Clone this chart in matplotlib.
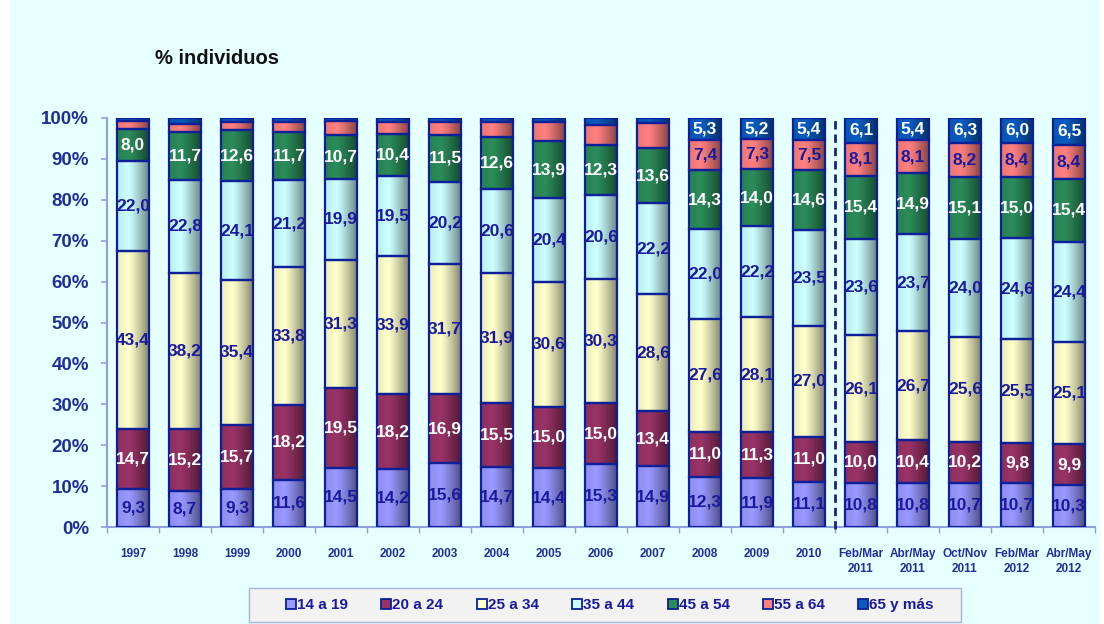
import numpy as np
import matplotlib.pyplot as plt
from matplotlib.patches import Rectangle
from matplotlib.lines import Line2D

periods = ['1997', '1998', '1999', '2000', '2001', '2002', '2003', '2004', '2005', '2006',
           '2007', '2008', '2009', '2010', 'Feb/Mar\n2011', 'Abr/May\n2011', 'Oct/Nov\n2011',
           'Feb/Mar\n2012', 'Abr/May\n2012']

age_14_19 = [9.3, 8.7, 9.3, 11.6, 14.5, 14.2, 15.6, 14.7, 14.4, 15.3, 14.9, 12.3, 11.9, 11.1, 10.8, 10.8, 10.7, 10.7, 10.3]
age_20_24 = [14.7, 15.2, 15.7, 18.2, 19.5, 18.2, 16.9, 15.5, 15.0, 15.0, 13.4, 11.0, 11.3, 11.0, 10.0, 10.4, 10.2, 9.8, 9.9]
age_25_34 = [43.4, 38.2, 35.4, 33.8, 31.3, 33.9, 31.7, 31.9, 30.6, 30.3, 28.6, 27.6, 28.1, 27.0, 26.1, 26.7, 25.6, 25.5, 25.1]
age_35_44 = [22.0, 22.8, 24.1, 21.2, 19.9, 19.5, 20.2, 20.6, 20.4, 20.6, 22.2, 22.0, 22.2, 23.5, 23.6, 23.7, 24.0, 24.6, 24.4]
age_45_54 = [8.0, 11.7, 12.6, 11.7, 10.7, 10.4, 11.5, 12.6, 13.9, 12.3, 13.6, 14.3, 14.0, 14.6, 15.4, 14.9, 15.1, 15.0, 15.4]
age_55_64 = [1.8, 2.0, 2.0, 2.4, 3.3, 2.7, 3.0, 3.7, 4.6, 4.9, 6.1, 7.4, 7.3, 7.5, 8.1, 8.1, 8.2, 8.4, 8.4]
age_65 = [0.8, 1.4, 0.9, 1.1, 0.8, 1.1, 1.1, 1.0, 1.1, 1.6, 1.2, 5.3, 5.2, 5.4, 6.1, 5.4, 6.3, 6.0, 6.5]

series_names = ['14 a 19', '20 a 24', '25 a 34', '35 a 44', '45 a 54', '55 a 64', '65 y más']
series = [age_14_19, age_20_24, age_25_34, age_35_44, age_45_54, age_55_64, age_65]
colors = ['#9999FF', '#993366', '#FFFFCC', '#CCFFFF', '#2B8C5A', '#FF8080', '#0A5CC0']
text_colors = ['#1A1A9C', 'white', '#1A1A9C', '#1A1A9C', 'white', '#1A1A9C', 'white']
# the two oldest groups only carry labels from 2008 on
first_labeled = [0, 0, 0, 0, 0, 11, 11]

navy = '#0D1F99'
axis_blue = '#8FA0E0'
tick_blue = '#1F2F9A'

plt.rcParams['font.family'] = ['Liberation Sans', 'DejaVu Sans']

fig = plt.figure(figsize=(11.04, 6.24), dpi=100)
fig.patch.set_facecolor('white')
fig.patches.append(Rectangle((10 / 1104, 0), 1090 / 1104, 1, transform=fig.transFigure,
                             facecolor='#E6FFFF', edgecolor='none', zorder=-5))

ax = fig.add_axes([107 / 1104, (624 - 527) / 624, 988 / 1104, 409 / 624])
ax.set_facecolor('none')

x = np.arange(len(periods))
width = 0.62

# horizontal shading laid over each bar
ramp = np.linspace(0, 1, 64)
shade = np.where(ramp < 0.35, 0.08 * (1 - ramp / 0.35), 0.5 * ((ramp - 0.35) / 0.65) ** 1.2)
grad = np.zeros((1, 64, 4))
grad[0, :, 3] = shade

bottom = np.zeros(len(periods))
for k, vals in enumerate(series):
    vals = np.array(vals)
    ax.bar(x, vals, width, bottom=bottom, color=colors[k], edgecolor='none', zorder=2)
    ax.bar(x, vals, width, bottom=bottom, fill=False, edgecolor=navy, linewidth=1.6, zorder=4)
    for i in range(len(periods)):
        if i >= first_labeled[k]:
            label = f'{vals[i]:.1f}'.replace('.', ',')
            ax.text(x[i], bottom[i] + vals[i] / 2, label, ha='center', va='center',
                    fontsize=12.5, fontweight='bold', color=text_colors[k], zorder=5)
    bottom += vals

for i in range(len(periods)):
    ax.imshow(grad, extent=(x[i] - width / 2, x[i] + width / 2, 0, bottom[i]),
              aspect='auto', interpolation='bilinear', zorder=3)

# split between yearly and survey-wave figures
ax.plot([13.5, 13.5], [-0.6, 100.6], color='#1A237E', linewidth=2, dashes=(3, 1.8),
        clip_on=False, zorder=5)

ax.set_xlim(-0.5, len(periods) - 0.5)
ax.set_ylim(0, 100)
ax.set_yticks(range(0, 101, 10))
ax.set_yticklabels([f'{v}%' for v in range(0, 101, 10)])
ax.set_xticks(x)
ax.set_xticklabels(periods)
ax.set_xticks(np.arange(-0.5, len(periods), 1), minor=True)

for side in ['top', 'right']:
    ax.spines[side].set_visible(False)
for side in ['left', 'bottom']:
    ax.spines[side].set_color(axis_blue)
    ax.spines[side].set_linewidth(1.5)

ax.tick_params(axis='y', length=4, width=1.2, color=axis_blue, pad=9,
               labelsize=13.5, labelcolor=tick_blue)
for lbl in ax.get_yticklabels():
    lbl.set_fontweight('bold')
ax.tick_params(axis='x', which='major', length=0, pad=15, labelsize=8.5, labelcolor=tick_blue)
ax.tick_params(axis='x', which='minor', length=4, width=1, color=axis_blue)
for lbl in ax.get_xticklabels():
    lbl.set_fontweight('bold')
    lbl.set_linespacing(1.3)

fig.text(155 / 1104, 1 - 58 / 624, '% individuos', ha='left', va='center',
         fontsize=14.5, fontweight='bold', color='#111111')

# legend panel
fig.patches.append(Rectangle((249 / 1104, 1 - 622 / 624), 712 / 1104, 34 / 624,
                             transform=fig.transFigure, facecolor='#F2F2F2',
                             edgecolor='#A8B2DA', linewidth=1, zorder=1))
handles = [Line2D([], [], marker='s', linestyle='none', markersize=6.5,
                  markerfacecolor=c, markeredgecolor=navy, markeredgewidth=1.3)
           for c in colors]
leg = fig.legend(handles, series_names, loc='center', ncol=7, frameon=False,
                 bbox_to_anchor=(280 / 1104, 1 - 621 / 624, 660 / 1104, 32 / 624),
                 mode='expand', handlelength=0.6, handletextpad=0.1, borderaxespad=0,
                 prop={'weight': 'bold', 'size': 11})
for t in leg.get_texts():
    t.set_color('#1A1A9C')

fig.savefig('out.png', dpi=100)
